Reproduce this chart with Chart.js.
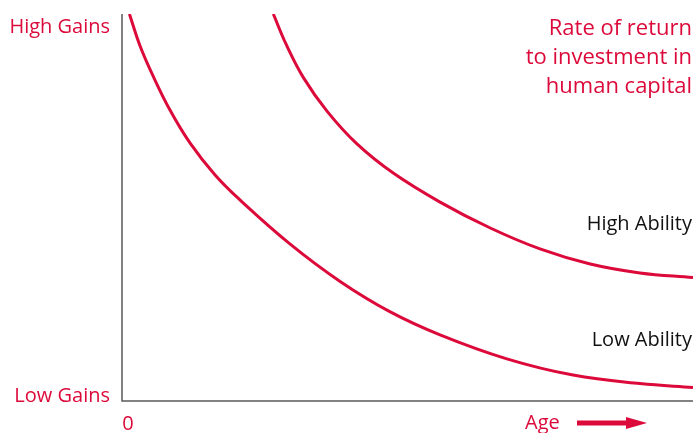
<!DOCTYPE html>
<html>
<head>
<meta charset="utf-8">
<script src="https://cdn.jsdelivr.net/npm/chart.js@4/dist/chart.umd.min.js"></script>
<style>
  html, body { margin: 0; padding: 0; background: #fff; }
  #wrap { width: 696px; height: 433px; position: relative; }
</style>
</head>
<body>
<div id="wrap"><canvas id="chart"></canvas></div>
<script>
// values (age 0-100, return 0-100)
var lowAge = [1.3, 3.2, 5.5, 8.4, 11.9, 16.3, 20.7, 29.4, 38.2, 46.9, 55.7, 67.4, 79.0, 90.7, 100];
var lowReturn = [100, 91.6, 83.8, 75.2, 66.7, 58.4, 51.9, 40.6, 30.9, 23.1, 17.1, 10.9, 6.7, 4.5, 3.5];
var highAge = [26.5, 28.8, 31.8, 35.9, 41.1, 47.5, 55.7, 64.5, 73.2, 82.0, 90.7, 100];
var highReturn = [100, 92.0, 83.5, 74.9, 66.5, 58.9, 51.4, 44.7, 39.3, 35.4, 33.1, 31.9];
var seriesNames = ["Low Ability", "High Ability"];
var yTickLabels = ["Low Gains", "High Gains"];
var xTickLabels = ["0", "Age"];
var titleLines = ["Rate of return", "to investment in", "human capital"];

var red = "#dc0a3a";
var font = "'Open Sans', sans-serif";

function toPoints(xs, ys) {
    var pts = [];
    for (var i = 0; i < xs.length; i++) {
        pts.push({ x: xs[i], y: ys[i] });
    }
    return pts;
}

var decorPlugin = {
    id: "decor",
    afterDatasetsDraw: function (chart) {
        var ctx = chart.ctx;
        var area = chart.chartArea;
        var xs = chart.scales.x;
        var ys = chart.scales.y;
        ctx.save();

        // axes
        ctx.strokeStyle = "#5a5a5a";
        ctx.lineWidth = 1.5;
        ctx.beginPath();
        ctx.moveTo(area.left, area.top);
        ctx.lineTo(area.left, area.bottom);
        ctx.lineTo(area.right, area.bottom);
        ctx.stroke();

        // y labels
        ctx.fillStyle = red;
        ctx.font = "20px " + font;
        ctx.textAlign = "right";
        ctx.textBaseline = "alphabetic";
        ctx.fillText(yTickLabels[1], area.left - 12, ys.getPixelForValue(100) + 19);
        ctx.fillText(yTickLabels[0], area.left - 12, ys.getPixelForValue(0) + 1);

        // x labels
        ctx.textAlign = "center";
        ctx.fillText(xTickLabels[0], xs.getPixelForValue(0) + 6, area.bottom + 29);
        ctx.textAlign = "left";
        ctx.fillText(xTickLabels[1], 525, area.bottom + 28);

        // arrow
        ctx.strokeStyle = red;
        ctx.lineWidth = 5;
        ctx.beginPath();
        ctx.moveTo(577, area.bottom + 22);
        ctx.lineTo(630, area.bottom + 22);
        ctx.stroke();
        ctx.beginPath();
        ctx.moveTo(626, area.bottom + 16);
        ctx.lineTo(647, area.bottom + 22);
        ctx.lineTo(626, area.bottom + 28);
        ctx.closePath();
        ctx.fill();

        // title
        ctx.font = "22px " + font;
        ctx.textAlign = "right";
        for (var i = 0; i < titleLines.length; i++) {
            ctx.fillText(titleLines[i], area.right - 1, 35 + i * 29);
        }

        // series labels
        ctx.fillStyle = "#111";
        ctx.font = "20px " + font;
        ctx.fillText(seriesNames[1], area.right - 1, 230);
        ctx.fillText(seriesNames[0], area.right - 1, 346);

        ctx.restore();
    }
};

new Chart(document.getElementById("chart"), {
    type: "line",
    data: {
        datasets: [
            {
                label: seriesNames[0],
                data: toPoints(lowAge, lowReturn),
                borderColor: red,
                borderWidth: 3,
                pointRadius: 0,
                tension: 0.4,
                fill: false,
            },
            {
                label: seriesNames[1],
                data: toPoints(highAge, highReturn),
                borderColor: red,
                borderWidth: 3,
                pointRadius: 0,
                tension: 0.4,
                fill: false,
            },
        ],
    },
    options: {
        responsive: true,
        maintainAspectRatio: false,
        animation: false,
        layout: {
            padding: { left: 122, right: 3, top: 14, bottom: 32 },
        },
        scales: {
            x: { type: "linear", min: 0, max: 100, display: false },
            y: { type: "linear", min: 0, max: 100, display: false },
        },
        plugins: {
            legend: { display: false },
            tooltip: { enabled: false },
        },
    },
    plugins: [decorPlugin],
});
</script>
</body>
</html>
